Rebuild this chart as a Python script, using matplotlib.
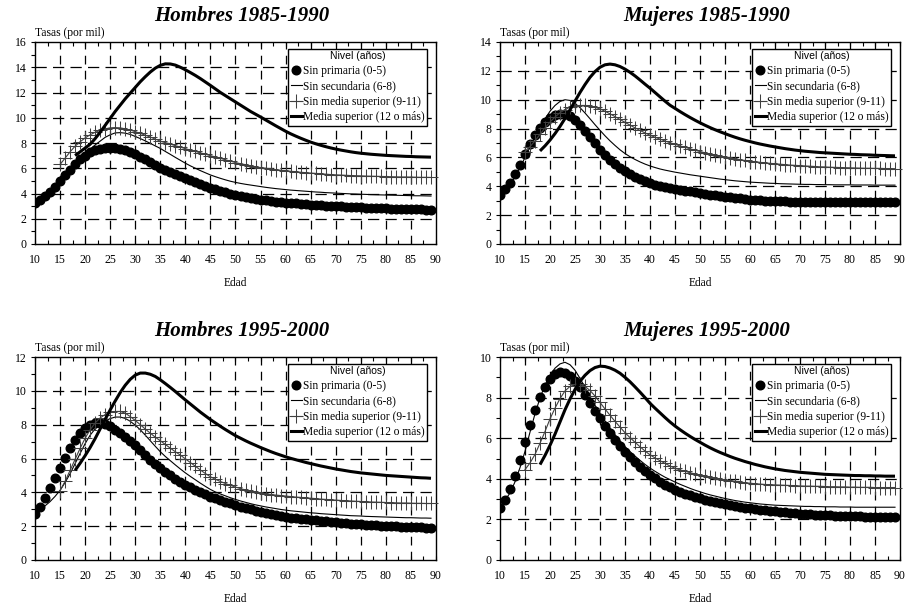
import matplotlib
matplotlib.use('Agg')
import matplotlib.pyplot as plt
import numpy as np
from matplotlib.ticker import MultipleLocator
from matplotlib.lines import Line2D

# Tasas por mil, edades 10 a 89
edad = np.arange(10, 90)

etiquetas = ['Sin primaria (0-5)', 'Sin secundaria (6-8)',
             'Sin media superior (9-11)', 'Media superior (12 o más)']

# Hombres 1985-1990
h85_prim = [3.25, 3.50, 3.80, 4.15, 4.55, 5.00, 5.45, 5.90, 6.30, 6.70,
            7.00, 7.25, 7.42, 7.53, 7.60, 7.62, 7.60, 7.55, 7.45, 7.32,
            7.15, 6.93, 6.70, 6.47, 6.24, 6.02, 5.85, 5.68, 5.51, 5.35,
            5.20, 5.05, 4.90, 4.75, 4.60, 4.46, 4.34, 4.22, 4.11, 4.00,
            3.90, 3.81, 3.73, 3.65, 3.58, 3.52, 3.46, 3.41, 3.36, 3.32,
            3.28, 3.24, 3.21, 3.18, 3.15, 3.12, 3.09, 3.06, 3.04, 3.02,
            3.00, 2.98, 2.96, 2.94, 2.92, 2.90, 2.88, 2.87, 2.85, 2.84,
            2.82, 2.81, 2.80, 2.79, 2.78, 2.77, 2.75, 2.74, 2.73, 2.72]
h85_sec = [3.20, 3.45, 3.75, 4.10, 4.50, 4.95, 5.40, 5.85, 6.30, 6.75,
           7.15, 7.50, 7.85, 8.15, 8.45, 8.65, 8.80, 8.82, 8.78, 8.68,
           8.52, 8.35, 8.17, 7.97, 7.77, 7.57, 7.33, 7.10, 6.86, 6.63,
           6.40, 6.19, 6.00, 5.81, 5.64, 5.47, 5.33, 5.20, 5.08, 4.97,
           4.88, 4.80, 4.73, 4.67, 4.61, 4.55, 4.49, 4.44, 4.39, 4.35,
           4.31, 4.27, 4.24, 4.21, 4.18, 4.15, 4.12, 4.10, 4.07, 4.05,
           4.03, 4.01, 3.99, 3.97, 3.96, 3.94, 3.93, 3.91, 3.90, 3.89,
           3.88, 3.87, 3.86, 3.85, 3.84, 3.83, 3.82, 3.82, 3.81, 3.80]
h85_med = [6.30, 6.80, 7.30, 7.75, 8.10,
           8.40, 8.65, 8.85, 9.00, 9.12, 9.20, 9.22, 9.20, 9.12, 9.02,
           8.90, 8.76, 8.62, 8.47, 8.31, 8.15, 8.03, 7.91, 7.79, 7.67,
           7.55, 7.44, 7.33, 7.22, 7.11, 7.00, 6.89, 6.78, 6.67, 6.56,
           6.45, 6.36, 6.28, 6.20, 6.12, 6.05, 6.00, 5.94, 5.89, 5.84,
           5.80, 5.76, 5.72, 5.68, 5.65, 5.62, 5.59, 5.56, 5.53, 5.50,
           5.48, 5.46, 5.44, 5.42, 5.41, 5.40, 5.38, 5.37, 5.36, 5.35,
           5.34, 5.33, 5.32, 5.31, 5.31, 5.30, 5.29, 5.28, 5.28, 5.27]
h85_sup = [7.00, 7.30,
           7.60, 7.90, 8.35, 8.85, 9.40, 9.95, 10.50, 11.00, 11.50, 11.95,
           12.40, 12.85, 13.25, 13.62, 13.93, 14.15, 14.27, 14.26, 14.17, 14.00,
           13.80, 13.58, 13.35, 13.10, 12.83, 12.56, 12.28, 12.00, 11.75, 11.50,
           11.25, 11.00, 10.75, 10.50, 10.28, 10.06, 9.83, 9.60, 9.37, 9.15,
           8.93, 8.73, 8.55, 8.38, 8.22, 8.07, 7.94, 7.82, 7.71, 7.61,
           7.52, 7.44, 7.37, 7.30, 7.24, 7.19, 7.15, 7.11, 7.08, 7.05,
           7.02, 7.00, 6.98, 6.96, 6.94, 6.93, 6.91, 6.90, 6.89, 6.88]

# Mujeres 1985-1990
m85_prim = [3.40, 3.78, 4.24, 4.85, 5.50, 6.22, 6.90, 7.52, 8.05, 8.45,
            8.75, 8.93, 9.02, 9.00, 8.90, 8.60, 8.25, 7.85, 7.42, 6.97,
            6.52, 6.15, 5.83, 5.53, 5.26, 5.05, 4.85, 4.67, 4.51, 4.36,
            4.22, 4.12, 4.03, 3.95, 3.88, 3.82, 3.76, 3.70, 3.64, 3.58,
            3.52, 3.47, 3.42, 3.37, 3.32, 3.28, 3.24, 3.20, 3.16, 3.12,
            3.08, 3.05, 3.03, 3.01, 2.99, 2.97, 2.96, 2.95, 2.94, 2.93,
            2.92, 2.92, 2.91, 2.91, 2.91, 2.90, 2.90, 2.90, 2.90, 2.90,
            2.90, 2.90, 2.89, 2.89, 2.89, 2.89, 2.89, 2.89, 2.89, 2.89]
m85_sec = [3.30, 3.65, 4.10, 4.65, 5.30, 6.00, 6.72, 7.42, 8.08, 8.68,
           9.20, 9.60, 9.88, 10.00, 9.95, 9.75, 9.45, 9.08, 8.68, 8.27,
           7.88, 7.50, 7.15, 6.83, 6.53, 6.27, 6.05, 5.86, 5.69, 5.54,
           5.41, 5.30, 5.20, 5.12, 5.05, 4.98, 4.92, 4.86, 4.80, 4.75,
           4.70, 4.65, 4.60, 4.55, 4.50, 4.46, 4.42, 4.38, 4.35, 4.32,
           4.29, 4.27, 4.25, 4.23, 4.21, 4.20, 4.18, 4.17, 4.16, 4.15,
           4.14, 4.13, 4.13, 4.12, 4.12, 4.11, 4.11, 4.10, 4.10, 4.10,
           4.10, 4.09, 4.09, 4.09, 4.09, 4.08, 4.08, 4.08, 4.08, 4.08]
m85_med = [6.40, 6.75, 7.15, 7.60, 8.05,
           8.45, 8.80, 9.10, 9.32, 9.48, 9.57, 9.60, 9.60, 9.55, 9.47,
           9.36, 9.20, 9.02, 8.83, 8.63, 8.43, 8.24, 8.05, 7.87, 7.70,
           7.54, 7.40, 7.27, 7.14, 7.02, 6.91, 6.80, 6.70, 6.60, 6.50,
           6.41, 6.32, 6.24, 6.16, 6.09, 6.02, 5.96, 5.90, 5.84, 5.79,
           5.74, 5.70, 5.66, 5.62, 5.59, 5.56, 5.53, 5.50, 5.47, 5.45,
           5.43, 5.41, 5.39, 5.37, 5.35, 5.34, 5.32, 5.31, 5.30, 5.29,
           5.28, 5.27, 5.26, 5.25, 5.25, 5.24, 5.24, 5.23, 5.23, 5.22]
m85_sup = [6.45, 6.80,
           7.20, 7.65, 8.15, 8.70, 9.30, 9.90, 10.50, 11.05, 11.55, 11.95,
           12.25, 12.42, 12.47, 12.42, 12.30, 12.12, 11.90, 11.65, 11.37, 11.08,
           10.80, 10.50, 10.20, 9.90, 9.62, 9.40, 9.18, 8.97, 8.77, 8.58,
           8.40, 8.23, 8.07, 7.92, 7.78, 7.65, 7.52, 7.40, 7.29, 7.19,
           7.10, 7.01, 6.93, 6.86, 6.79, 6.73, 6.67, 6.61, 6.56, 6.51,
           6.47, 6.43, 6.40, 6.37, 6.34, 6.32, 6.30, 6.28, 6.26, 6.24,
           6.22, 6.21, 6.19, 6.18, 6.17, 6.15, 6.14, 6.13, 6.12, 6.11]

# Hombres 1995-2000
h95_prim = [2.74, 3.14, 3.67, 4.26, 4.85, 5.46, 6.05, 6.60, 7.08, 7.48,
            7.80, 8.00, 8.10, 8.12, 8.05, 7.90, 7.70, 7.48, 7.25, 7.01,
            6.77, 6.50, 6.22, 5.94, 5.67, 5.41, 5.20, 5.00, 4.80, 4.62,
            4.45, 4.30, 4.15, 4.01, 3.88, 3.75, 3.64, 3.54, 3.44, 3.34,
            3.25, 3.16, 3.08, 3.00, 2.92, 2.85, 2.78, 2.72, 2.66, 2.60,
            2.55, 2.51, 2.48, 2.44, 2.41, 2.38, 2.35, 2.31, 2.28, 2.25,
            2.22, 2.20, 2.17, 2.14, 2.12, 2.10, 2.08, 2.06, 2.05, 2.03,
            2.02, 2.01, 2.00, 1.98, 1.97, 1.96, 1.95, 1.93, 1.92, 1.91]
h95_sec = [2.85, 2.98, 3.20, 3.45, 3.76, 4.12, 4.58, 5.10, 5.70, 6.30,
           6.88, 7.38, 7.75, 8.02, 8.22, 8.36, 8.45, 8.45, 8.37, 8.20,
           7.97, 7.70, 7.38, 7.05, 6.72, 6.40, 6.12, 5.87, 5.62, 5.38,
           5.15, 4.94, 4.74, 4.54, 4.35, 4.17, 4.02, 3.90, 3.79, 3.68,
           3.58, 3.49, 3.41, 3.33, 3.26, 3.20, 3.14, 3.09, 3.04, 2.99,
           2.95, 2.91, 2.88, 2.85, 2.82, 2.79, 2.77, 2.74, 2.72, 2.70,
           2.68, 2.66, 2.64, 2.62, 2.61, 2.60, 2.58, 2.57, 2.56, 2.55,
           2.54, 2.53, 2.52, 2.51, 2.50, 2.50, 2.49, 2.48, 2.48, 2.47]
h95_med = [4.10, 4.65, 5.30, 5.95, 6.60,
           7.20, 7.70, 8.10, 8.40, 8.60, 8.72, 8.78, 8.78, 8.68, 8.48,
           8.25, 8.00, 7.74, 7.50, 7.26, 7.05, 6.83, 6.61, 6.40, 6.20,
           5.98, 5.76, 5.54, 5.32, 5.11, 4.92, 4.77, 4.64, 4.52, 4.41,
           4.31, 4.22, 4.14, 4.07, 4.01, 3.95, 3.91, 3.87, 3.84, 3.81,
           3.78, 3.75, 3.72, 3.70, 3.67, 3.65, 3.63, 3.60, 3.58, 3.56,
           3.54, 3.52, 3.50, 3.49, 3.47, 3.46, 3.45, 3.43, 3.42, 3.41,
           3.40, 3.39, 3.38, 3.37, 3.37, 3.36, 3.35, 3.35, 3.34, 3.34]
h95_sup = [5.30, 5.72,
           6.17, 6.65, 7.18, 7.75, 8.32, 8.87, 9.40, 9.90, 10.33, 10.68,
           10.93, 11.05, 11.05, 10.98, 10.85, 10.65, 10.43, 10.20, 9.96, 9.71,
           9.46, 9.22, 8.98, 8.74, 8.52, 8.30, 8.10, 7.90, 7.71, 7.53,
           7.35, 7.20, 7.05, 6.91, 6.78, 6.65, 6.53, 6.41, 6.30, 6.20,
           6.10, 6.01, 5.93, 5.85, 5.77, 5.70, 5.63, 5.56, 5.50, 5.44,
           5.38, 5.33, 5.28, 5.23, 5.19, 5.15, 5.12, 5.09, 5.06, 5.03,
           5.00, 4.98, 4.96, 4.94, 4.92, 4.90, 4.88, 4.86, 4.85, 4.83]

# Mujeres 1995-2000
m95_prim = [2.57, 2.95, 3.48, 4.15, 4.94, 5.80, 6.63, 7.39, 8.05, 8.54,
            8.93, 9.15, 9.24, 9.20, 9.07, 8.83, 8.50, 8.14, 7.75, 7.36,
            6.98, 6.60, 6.26, 5.93, 5.62, 5.33, 5.07, 4.83, 4.60, 4.39,
            4.19, 4.02, 3.86, 3.71, 3.58, 3.45, 3.35, 3.26, 3.18, 3.10,
            3.03, 2.96, 2.90, 2.84, 2.79, 2.74, 2.69, 2.65, 2.61, 2.57,
            2.54, 2.50, 2.47, 2.44, 2.41, 2.39, 2.36, 2.34, 2.32, 2.30,
            2.28, 2.26, 2.25, 2.23, 2.22, 2.21, 2.20, 2.19, 2.18, 2.17,
            2.16, 2.15, 2.15, 2.14, 2.14, 2.13, 2.13, 2.12, 2.12, 2.12]
m95_sec = [2.75, 2.95, 3.30, 3.85, 4.55, 5.35, 6.30, 7.20, 7.98, 8.62,
           9.10, 9.45, 9.66, 9.74, 9.62, 9.35, 8.95, 8.50, 8.05, 7.62,
           7.22, 6.85, 6.50, 6.17, 5.87, 5.58, 5.34, 5.12, 4.91, 4.71,
           4.53, 4.37, 4.22, 4.08, 3.96, 3.84, 3.73, 3.63, 3.53, 3.44,
           3.36, 3.28, 3.21, 3.15, 3.09, 3.03, 2.98, 2.93, 2.89, 2.85,
           2.82, 2.79, 2.76, 2.74, 2.72, 2.70, 2.69, 2.68, 2.67, 2.66,
           2.65, 2.64, 2.64, 2.63, 2.63, 2.62, 2.62, 2.62, 2.61, 2.61,
           2.61, 2.60, 2.60, 2.60, 2.60, 2.60, 2.60, 2.60, 2.60, 2.60]
m95_med = [4.45, 4.78, 5.20, 5.75, 6.33,
           6.95, 7.48, 7.95, 8.33, 8.55, 8.65, 8.65, 8.55, 8.35, 8.08,
           7.76, 7.44, 7.13, 6.83, 6.55, 6.27, 6.03, 5.80, 5.58, 5.37,
           5.18, 5.03, 4.89, 4.76, 4.63, 4.52, 4.44, 4.37, 4.30, 4.24,
           4.19, 4.14, 4.09, 4.04, 3.99, 3.95, 3.91, 3.88, 3.84, 3.81,
           3.78, 3.76, 3.74, 3.72, 3.71, 3.70, 3.69, 3.68, 3.67, 3.66,
           3.65, 3.64, 3.64, 3.63, 3.63, 3.62, 3.61, 3.61, 3.60, 3.60,
           3.59, 3.59, 3.58, 3.58, 3.58, 3.57, 3.57, 3.57, 3.57, 3.57]
m95_sup = [4.70, 5.15,
           5.65, 6.20, 6.80, 7.40, 7.93, 8.40, 8.80, 9.10, 9.33, 9.48,
           9.55, 9.53, 9.46, 9.35, 9.20, 9.00, 8.78, 8.53, 8.27, 8.00,
           7.72, 7.48, 7.25, 7.02, 6.80, 6.60, 6.42, 6.25, 6.09, 5.94,
           5.80, 5.66, 5.53, 5.41, 5.30, 5.20, 5.10, 5.01, 4.93, 4.85,
           4.78, 4.71, 4.65, 4.59, 4.54, 4.49, 4.45, 4.41, 4.38, 4.35,
           4.32, 4.30, 4.28, 4.26, 4.24, 4.22, 4.21, 4.20, 4.19, 4.18,
           4.17, 4.16, 4.16, 4.15, 4.15, 4.14, 4.14, 4.13, 4.13, 4.13]

titulos = ['Hombres 1985-1990', 'Mujeres 1985-1990',
           'Hombres 1995-2000', 'Mujeres 1995-2000']
ymax = [16, 14, 12, 10]

plt.rcParams['font.family'] = 'Liberation Serif'
plt.rcParams['font.size'] = 8.5

fig = plt.figure(figsize=(9.07, 6.10), dpi=100)
W, H = 907.0, 610.0
# cajas de los ejes en pixeles: izquierda, arriba, derecha, abajo
cajas = [(35, 42, 436, 244), (500, 42, 900, 244),
         (35, 357, 436, 560), (500, 357, 900, 560)]

MS_CIRC = 6.2
MS_MAS = 10
GRIS = '#404040'


def grafica(ax, titulo, ytop, prim, sec, med, sup):
    ax.plot(edad, prim, 'o', color='black', ms=MS_CIRC, zorder=3)
    ax.plot(edad, sec, '-', color='black', lw=0.8, zorder=4)
    ax.plot(edad[5:], med, '-', marker='+', color=GRIS, lw=0.8,
            ms=MS_MAS, mew=0.75, zorder=5, clip_on=False)
    ax.plot(edad[8:], sup, '-', color='black', lw=2.2, zorder=6,
            solid_capstyle='butt')

    ax.set_xlim(10, 90)
    ax.set_ylim(0, ytop)
    ax.xaxis.set_major_locator(MultipleLocator(5))
    ax.xaxis.set_minor_locator(MultipleLocator(2.5))
    ax.yaxis.set_major_locator(MultipleLocator(2))
    ax.yaxis.set_minor_locator(MultipleLocator(1))
    ax.tick_params(axis='x', which='both', direction='in', top=True,
                   bottom=True, length=3, width=0.8, pad=7, labelsize=8.5)
    ax.tick_params(axis='y', which='both', direction='out', left=True,
                   right=False, length=3, width=0.8, pad=3, labelsize=8.5)
    for s in ax.spines.values():
        s.set_linewidth(1.0)
        s.set_color('black')

    # rejilla discontinua
    for x in range(15, 90, 5):
        ax.axvline(x, color='black', lw=0.9, ls=(0, (7, 5)), zorder=1)
    for y in range(2, ytop, 2):
        ax.axhline(y, color='black', lw=0.9, ls=(0, (9, 5)), zorder=1)

    ax.text(0.516, 1.128, titulo, transform=ax.transAxes, ha='center',
            va='center', fontsize=15, fontweight='bold', fontstyle='italic')
    ax.text(0.0, 1.045, 'Tasas (por mil)', transform=ax.transAxes,
            ha='left', va='center', fontsize=8.3)
    ax.text(0.5, -0.193, 'Edad', transform=ax.transAxes, ha='center',
            va='center', fontsize=8.3)

    manijas = [
        Line2D([], [], ls='none', marker='o', color='black', ms=MS_CIRC),
        Line2D([], [], color='black', lw=0.8),
        Line2D([], [], color=GRIS, lw=0.8, marker='+', ms=MS_MAS, mew=0.75),
        Line2D([], [], color='black', lw=2.2),
    ]
    leg = ax.legend(manijas, etiquetas, loc='upper right',
                    bbox_to_anchor=(0.978, 0.965), title='Nivel (años)',
                    fontsize=8.3, fancybox=False, edgecolor='black',
                    framealpha=1, borderpad=0.2, labelspacing=0.3,
                    handlelength=1.0, handletextpad=0.1, borderaxespad=0)
    leg.get_frame().set_linewidth(1.0)
    leg.get_title().set_family('Liberation Sans')
    leg.get_title().set_fontsize(7.5)
    leg.set_zorder(10)


datos = [(h85_prim, h85_sec, h85_med, h85_sup),
         (m85_prim, m85_sec, m85_med, m85_sup),
         (h95_prim, h95_sec, h95_med, h95_sup),
         (m95_prim, m95_sec, m95_med, m95_sup)]

for caja, titulo, ytop, serie in zip(cajas, titulos, ymax, datos):
    x0, y0, x1, y1 = caja
    ax = fig.add_axes([x0 / W, 1 - y1 / H, (x1 - x0) / W, (y1 - y0) / H])
    grafica(ax, titulo, ytop, *serie)

fig.savefig('out.png', dpi=100)
